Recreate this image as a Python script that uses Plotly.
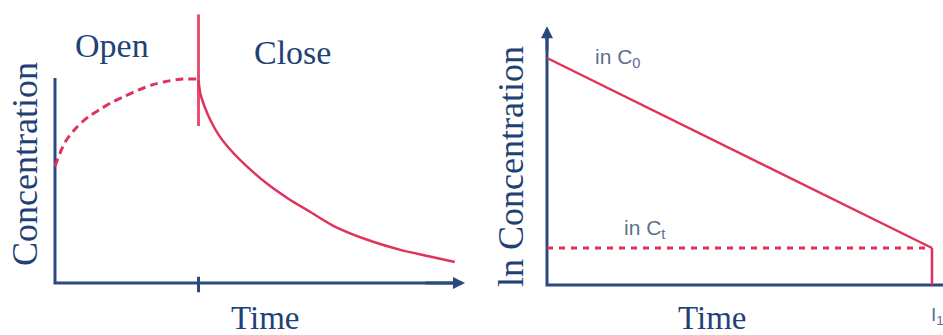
import plotly.graph_objects as go

# ---- data -------------------------------------------------------------
# Left panel: concentration vs time, valve open then closed
open_time = [0.0, 0.24, 0.53, 0.81, 1.1, 1.38, 1.71, 2.03, 2.36, 2.68, 3.05, 3.5]
open_conc = [5.7, 6.85, 7.6, 8.1, 8.47, 8.81, 9.12, 9.41, 9.66, 9.82, 9.94, 9.95]

close_time = [3.5, 3.55, 3.65, 3.8, 4.0, 4.3, 4.7, 5.2, 5.7, 6.2, 6.8, 7.6, 8.4, 9.2, 9.75]
close_conc = [9.9, 9.2, 8.6, 7.9, 7.2, 6.45, 5.65, 4.8, 4.1, 3.5, 2.78, 2.12, 1.63, 1.27, 1.02]

switch_time = 3.5
left_t_max = 10.0
left_c_max = 10.0

# Right panel: ln(concentration) vs time, straight-line decay
ln_c0 = 10.0
ln_ct = 1.63
t1 = 10.0
right_t_end = 10.29
right_lnc_top = 11.4

# ---- styling ----------------------------------------------------------
W, H = 943, 335
NAVY = "#2a4a7e"
TEXT_NAVY = "#1f4276"
RED = "#e0335c"
SLATE = "#5d7090"
SERIF = "Liberation Serif, Times New Roman, serif"
SANS = "Liberation Sans, Arial, sans-serif"


def px_x(p):
    return p / W


def px_y(p):
    return (H - p) / H


# left panel axis geometry (pixels)
L_X0, L_PPU_X = 55, 41.0      # time 0 pixel column, pixels per unit
L_XLOW, L_XHIGH = -0.4, 10.3
L_Y0, L_PPU = 283, 20.5       # conc 0 pixel row, pixels per unit
L_YLOW = -1.5
# right panel axis geometry (pixels)
R_X0, R_PPU_X = 547, 38.5
R_XLOW = -0.3
R_Y0, R_PPU_Y = 285, 22.7
R_YLOW = -1.0

fig = go.Figure()

# ---- left panel -------------------------------------------------------
# axes drawn as an L-shaped line
fig.add_trace(go.Scatter(x=[0, 0, left_t_max * 0.98], y=[left_c_max, 0, 0],
                         mode="lines", line=dict(color=NAVY, width=3),
                         xaxis="x", yaxis="y", hoverinfo="skip"))
# tick at the switch time
fig.add_trace(go.Scatter(x=[switch_time, switch_time], y=[0.3, -0.45],
                         mode="lines", line=dict(color=NAVY, width=3),
                         xaxis="x", yaxis="y", hoverinfo="skip"))
# open phase (dashed)
fig.add_trace(go.Scatter(x=open_time, y=open_conc, mode="lines",
                         line=dict(color=RED, width=3, dash="8px,5px", shape="spline",
                                   smoothing=0.8),
                         xaxis="x", yaxis="y", hoverinfo="skip"))
# closed phase (solid decay)
fig.add_trace(go.Scatter(x=close_time, y=close_conc, mode="lines",
                         line=dict(color=RED, width=2.5, shape="spline", smoothing=0.8),
                         xaxis="x", yaxis="y", hoverinfo="skip"))
# valve switch marker
fig.add_trace(go.Scatter(x=[switch_time, switch_time], y=[13.1, 7.66], mode="lines",
                         line=dict(color=RED, width=3), opacity=0.85,
                         xaxis="x", yaxis="y", hoverinfo="skip"))

# ---- right panel ------------------------------------------------------
fig.add_trace(go.Scatter(x=[0, 0, right_t_end], y=[right_lnc_top * 0.97, 0, 0],
                         mode="lines", line=dict(color=NAVY, width=3),
                         xaxis="x2", yaxis="y2", hoverinfo="skip"))
fig.add_trace(go.Scatter(x=[0, t1], y=[ln_c0, ln_ct], mode="lines",
                         line=dict(color=RED, width=2.5),
                         xaxis="x2", yaxis="y2", hoverinfo="skip"))
fig.add_trace(go.Scatter(x=[0, t1], y=[ln_ct, ln_ct], mode="lines",
                         line=dict(color=RED, width=3, dash="6px,6px"),
                         xaxis="x2", yaxis="y2", hoverinfo="skip"))
fig.add_trace(go.Scatter(x=[t1, t1], y=[ln_ct, 0], mode="lines",
                         line=dict(color=RED, width=2.5),
                         xaxis="x2", yaxis="y2", hoverinfo="skip"))


def label(text, x, y, size, family=SERIF, color=TEXT_NAVY, **kw):
    opts = dict(text=text, x=px_x(x), y=px_y(y), xref="paper", yref="paper",
                xanchor="center", yanchor="middle", showarrow=False,
                font=dict(family=family, size=size, color=color))
    opts.update(kw)
    return opts


annotations = [
    # arrowheads
    dict(x=left_t_max, y=0, ax=left_t_max * 0.9, ay=0, xref="x", yref="y",
         axref="x", ayref="y", showarrow=True, arrowhead=2, arrowsize=0.8,
         arrowwidth=3, arrowcolor=NAVY, text=""),
    dict(x=0, y=right_lnc_top, ax=0, ay=right_lnc_top * 0.9, xref="x2", yref="y2",
         axref="x2", ayref="y2", showarrow=True, arrowhead=2, arrowsize=0.8,
         arrowwidth=3, arrowcolor=NAVY, text=""),
    # serif labels
    label("Open", 112, 45, 34),
    label("Close", 292, 53, 34),
    label("Concentration", 25, 164, 36, textangle=-90),
    label("Time", 265, 318, 33),
    label("ln Concentration", 511, 167, 36, textangle=-90),
    label("Time", 712, 318, 33),
    # sans labels on the right panel
    label("in C<sub>0</sub>", 593, 58, 21, family=SANS, color=SLATE, xanchor="left"),
    label("in C<sub>t</sub>", 622, 229, 21, family=SANS, color=SLATE, xanchor="left"),
    dict(text="I<sub>1</sub>", x=t1, y=px_y(316), xref="x2", yref="paper",
         xanchor="left", yanchor="middle", xshift=-3, showarrow=False,
         font=dict(family=SANS, size=19, color=SLATE)),
]

hidden = dict(visible=False, fixedrange=True)
fig.update_layout(
    width=W, height=H,
    margin=dict(l=0, r=0, t=0, b=0),
    paper_bgcolor="white", plot_bgcolor="white",
    showlegend=False,
    xaxis=dict(domain=[px_x(L_X0 + L_XLOW * L_PPU_X), px_x(L_X0 + L_XHIGH * L_PPU_X)],
               range=[L_XLOW, L_XHIGH], anchor="y", **hidden),
    yaxis=dict(domain=[px_y(L_Y0 - L_YLOW * L_PPU), 1],
               range=[L_YLOW, L_Y0 / L_PPU], anchor="x", **hidden),
    xaxis2=dict(domain=[px_x(R_X0 + R_XLOW * R_PPU_X), 1],
                range=[R_XLOW, (W - R_X0) / R_PPU_X], anchor="y2", **hidden),
    yaxis2=dict(domain=[px_y(R_Y0 - R_YLOW * R_PPU_Y), 1],
                range=[R_YLOW, R_Y0 / R_PPU_Y], anchor="x2", **hidden),
    annotations=annotations,
)

fig.write_html("out.html")
